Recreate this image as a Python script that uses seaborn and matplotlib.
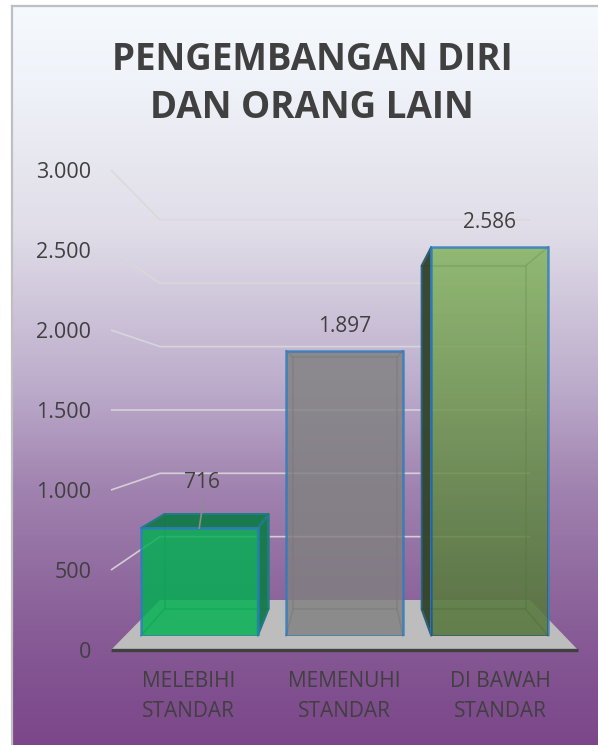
import numpy as np
import pandas as pd
import seaborn as sns
import matplotlib
matplotlib.use("Agg")
import matplotlib.pyplot as plt
from matplotlib.patches import Polygon

categories = ["MELEBIHI\nSTANDAR", "MEMENUHI\nSTANDAR", "DI BAWAH\nSTANDAR"]
values = [716, 1897, 2586]
bar_colors = ["#00B050", "#808080", "#81B25B"]
dark_colors = ["#167A4A", "#555555", "#34452C"]
bar_shade = [0.0, 0.0, 0.3]
ticks = [0, 500, 1000, 1500, 2000, 2500, 3000]
title = "PENGEMBANGAN DIRI\nDAN ORANG LAIN"

W, H = 598, 745
sns.set_theme(style="white")
plt.rcParams["font.family"] = ["Open Sans", "DejaVu Sans"]
TXT = "#404040"
fig = plt.figure(figsize=(W / 100, H / 100), dpi=100, facecolor="white")


def px_axes(x0, y0, x1, y1, z):
    a = fig.add_axes([x0 / W, 1 - y1 / H, (x1 - x0) / W, (y1 - y0) / H], zorder=z)
    a.patch.set_alpha(0)
    return a


# frame with vertical gradient (runs off the right and bottom edges)
FX0, FY0, FX1, FY1 = 12, 6, 604, 751
bg = px_axes(FX0, FY0, FX1, FY1, 0)
stops_y = [0, 0.1, 0.3, 0.5, 0.65, 0.8, 0.9, 1]
stops_rgb = np.array([(245, 250, 254), (240, 243, 249), (224, 221, 232), (190, 175, 205),
                      (160, 130, 175), (140, 100, 155), (130, 82, 145), (123, 70, 136)]) / 255
yy = np.linspace(0, 1, 400)
img = np.stack([np.interp(yy, stops_y, stops_rgb[:, c]) for c in range(3)], axis=1)[:, None, :]
bg.imshow(img, aspect="auto", extent=(0, 1, 1, 0))
bg.set_xticks([]); bg.set_yticks([])
for s in bg.spines.values():
    s.set_color("#BFBFBF"); s.set_linewidth(1.6)

# value axis / category axis at the front of the floor
BASE_L, BASE_R, BASE_0, BASE_T = 111, 578, 650, 170
base = px_axes(BASE_L, BASE_T, BASE_R, BASE_0, 1)
base.set_xlim(-0.5, 2.5)
base.set_ylim(0, 3000)
base.set_yticks(ticks)
base.set_yticklabels([f"{t:,}".replace(",", ".") for t in ticks], fontsize=15.5, color=TXT)
base.set_xticks(range(3))
base.set_xticklabels(categories, fontsize=15, color=TXT, linespacing=1.6)
base.tick_params(axis="y", length=0, pad=14.2)
base.tick_params(axis="x", length=0, pad=15)
for s in base.spines.values():
    s.set_visible(False)

# pixel-space layer for the perspective box
back = px_axes(0, 0, W, H, 2)
back.set_xlim(0, W); back.set_ylim(H, 0); back.axis("off")
WALL_L, WALL_R, WALL_0 = 160, 530, 600
WALL_K = 0.1267
FRONT_K = 0.16
back.add_patch(Polygon([(BASE_L, BASE_0), (BASE_R, BASE_0), (WALL_R, WALL_0), (WALL_L, WALL_0)],
                       closed=True, fc="#BDBDBD", ec="none", zorder=1))
back.plot([BASE_L, BASE_R], [BASE_0, BASE_0], color="#404040", lw=2.4, zorder=2, solid_capstyle="butt")
for t in ticks[1:]:
    lx, ly = BASE_L, BASE_0 - FRONT_K * t
    wy = WALL_0 - WALL_K * t
    back.plot([lx, WALL_L, WALL_R], [ly, wy, wy], color="#D9D9D9", lw=1.2, alpha=0.9,
              solid_capstyle="butt", solid_joinstyle="miter", zorder=2)

# bars: box geometry derived from the values
BAR_K_F, BAR_K_B = 0.1505, 0.1327
BAR_F0, BAR_B0 = 636, 609
BAR_FX0, BAR_FDX, BAR_HALF_F = 344.5, 145.3, 58.5
BAR_BX0, BAR_BDX, BAR_HALF_B = 345, 128.5, 52
EDGE = "#2E7BBE"
for i, v in enumerate(values):
    fl = BAR_FX0 + (i - 1) * BAR_FDX - BAR_HALF_F
    fr = BAR_FX0 + (i - 1) * BAR_FDX + BAR_HALF_F
    bl = BAR_BX0 + (i - 1) * BAR_BDX - BAR_HALF_B
    br = BAR_BX0 + (i - 1) * BAR_BDX + BAR_HALF_B
    ft, bt = BAR_F0 - BAR_K_F * v, BAR_B0 - BAR_K_B * v
    faces = [
        ([(fl, ft), (bl, bt), (bl, BAR_B0), (fl, BAR_F0)], bl < fl),
        ([(fr, ft), (br, bt), (br, BAR_B0), (fr, BAR_F0)], br > fr),
        ([(fl, ft), (bl, bt), (br, bt), (fr, ft)], bt < ft),
    ]
    for pts, outside in faces:
        if outside:
            back.add_patch(Polygon(pts, closed=True, fc=dark_colors[i], ec=EDGE, lw=1.4, alpha=0.97, zorder=3))
    # inner edges of the box
    line = dict(color=dark_colors[i], lw=1.1, alpha=0.55, zorder=4)
    back.plot([bl, br, br, bl, bl], [bt, bt, BAR_B0, BAR_B0, bt], **line)
    for xa, xb, ya, yb in [(fl, bl, ft, bt), (fr, br, ft, bt), (fl, bl, BAR_F0, BAR_B0), (fr, br, BAR_F0, BAR_B0)]:
        back.plot([xa, xb], [ya, yb], **line)

# front faces drawn by seaborn
full_left = BAR_FX0 - 1.5 * BAR_FDX
ax = px_axes(full_left, BAR_F0 - BAR_K_F * 3000, full_left + 3 * BAR_FDX, BAR_F0, 3)
df = pd.DataFrame({"cat": categories, "val": values})
sns.barplot(data=df, x="cat", y="val", hue="cat", palette=bar_colors, dodge=False, legend=False,
            width=2 * BAR_HALF_F / BAR_FDX, saturation=1, alpha=0.82, edgecolor=EDGE, linewidth=1.8, ax=ax)
for p in ax.patches:
    p.set_edgecolor(EDGE)
    p.set_zorder(3)
# darkening toward the foot of a bar, clipped to the bar itself
for p, shade in zip(ax.patches, bar_shade):
    if shade > 0:
        ramp = np.zeros((200, 1, 4))
        ramp[..., 3] = np.linspace(0, shade, 200)[:, None]
        im = ax.imshow(ramp, aspect="auto", zorder=2.5, origin="upper",
                       extent=(p.get_x(), p.get_x() + p.get_width(), 0, p.get_height()))
        im.set_zorder(4)
        im.set_clip_path(p)
ax.set_xlim(-0.5, 2.5); ax.set_ylim(0, 3000)
ax.axis("off")

# data labels
offsets = [(2, 33), (0, 17.5), (0, 17.5)]
for i, v in enumerate(values):
    ax.annotate(f"{v:,}".replace(",", "."), xy=(i, v), xytext=offsets[i], textcoords="offset points",
                ha="center", va="center", fontsize=15, color=TXT, annotation_clip=False)
ax.annotate("", xy=(0, values[0]), xytext=(3, 20), textcoords="offset points",
            arrowprops=dict(arrowstyle="-", color="#8C8C8C", lw=1.2, shrinkA=0, shrinkB=0))

fig.text(312 / W, 1 - 84 / H, title, ha="center", va="center", fontsize=26.5, fontweight="bold",
         color=TXT, linespacing=1.37, zorder=10)

fig.savefig("out.png", dpi=100, facecolor="white")
